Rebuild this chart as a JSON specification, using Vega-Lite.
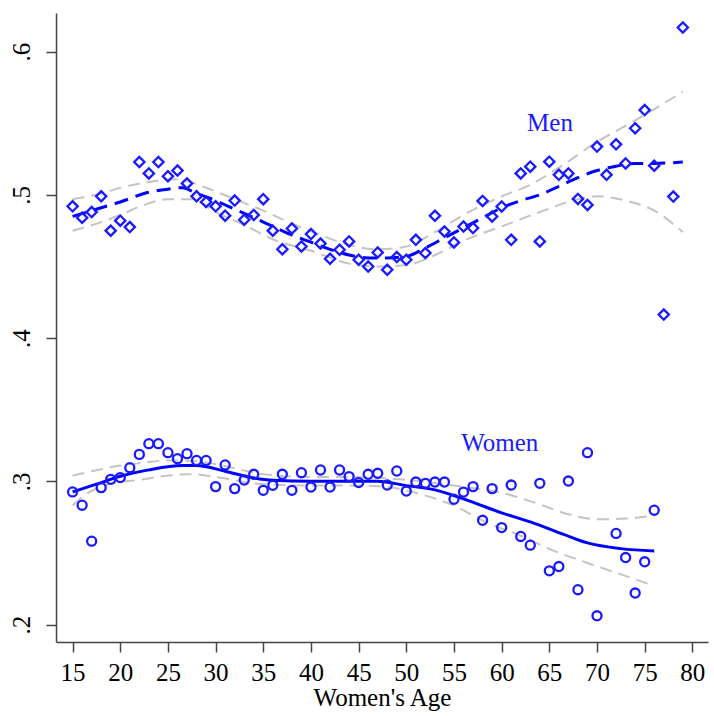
{
  "$schema": "https://vega.github.io/schema/vega-lite/v6.json",
  "autosize": {"type": "none"},
  "padding": {"left": 56, "top": 13, "right": 6, "bottom": 74},
  "width": 652,
  "height": 629,
  "background": "white",
  "config": {
    "view": {"stroke": null},
    "font": "Liberation Serif",
    "axis": {
      "grid": false,
      "domainColor": "#444444",
      "domainWidth": 1.5,
      "tickColor": "#444444",
      "tickWidth": 1.5,
      "tickSize": 10,
      "labelFont": "Liberation Serif",
      "labelFontSize": 25,
      "labelColor": "black",
      "titleFont": "Liberation Serif",
      "titleFontSize": 25,
      "titleFontWeight": "normal",
      "titleColor": "black"
    }
  },
  "datasets": {
    "points": [
      {"sex": "Men", "age": 15, "value": 0.492}, {"sex": "Men", "age": 16, "value": 0.484}, {"sex": "Men", "age": 17, "value": 0.488},
      {"sex": "Men", "age": 18, "value": 0.499}, {"sex": "Men", "age": 19, "value": 0.475}, {"sex": "Men", "age": 20, "value": 0.482},
      {"sex": "Men", "age": 21, "value": 0.4775}, {"sex": "Men", "age": 22, "value": 0.523}, {"sex": "Men", "age": 23, "value": 0.515},
      {"sex": "Men", "age": 24, "value": 0.523}, {"sex": "Men", "age": 25, "value": 0.513}, {"sex": "Men", "age": 26, "value": 0.517},
      {"sex": "Men", "age": 27, "value": 0.508}, {"sex": "Men", "age": 28, "value": 0.499}, {"sex": "Men", "age": 29, "value": 0.495},
      {"sex": "Men", "age": 30, "value": 0.492}, {"sex": "Men", "age": 31, "value": 0.4855}, {"sex": "Men", "age": 32, "value": 0.496},
      {"sex": "Men", "age": 33, "value": 0.4826}, {"sex": "Men", "age": 34, "value": 0.486}, {"sex": "Men", "age": 35, "value": 0.497},
      {"sex": "Men", "age": 36, "value": 0.475}, {"sex": "Men", "age": 37, "value": 0.462}, {"sex": "Men", "age": 38, "value": 0.4765},
      {"sex": "Men", "age": 39, "value": 0.464}, {"sex": "Men", "age": 40, "value": 0.4726}, {"sex": "Men", "age": 41, "value": 0.466},
      {"sex": "Men", "age": 42, "value": 0.4554}, {"sex": "Men", "age": 43, "value": 0.4617}, {"sex": "Men", "age": 44, "value": 0.4675},
      {"sex": "Men", "age": 45, "value": 0.4547}, {"sex": "Men", "age": 46, "value": 0.45}, {"sex": "Men", "age": 47, "value": 0.4598},
      {"sex": "Men", "age": 48, "value": 0.4477}, {"sex": "Men", "age": 49, "value": 0.4566}, {"sex": "Men", "age": 50, "value": 0.4547},
      {"sex": "Men", "age": 51, "value": 0.4686}, {"sex": "Men", "age": 52, "value": 0.4594}, {"sex": "Men", "age": 53, "value": 0.4854},
      {"sex": "Men", "age": 54, "value": 0.4744}, {"sex": "Men", "age": 55, "value": 0.4668}, {"sex": "Men", "age": 56, "value": 0.4779},
      {"sex": "Men", "age": 57, "value": 0.4768}, {"sex": "Men", "age": 58, "value": 0.4958}, {"sex": "Men", "age": 59, "value": 0.4849},
      {"sex": "Men", "age": 60, "value": 0.4919}, {"sex": "Men", "age": 61, "value": 0.4686}, {"sex": "Men", "age": 62, "value": 0.515},
      {"sex": "Men", "age": 63, "value": 0.5197}, {"sex": "Men", "age": 64, "value": 0.4675}, {"sex": "Men", "age": 65, "value": 0.5232},
      {"sex": "Men", "age": 66, "value": 0.514}, {"sex": "Men", "age": 67, "value": 0.515}, {"sex": "Men", "age": 68, "value": 0.4972},
      {"sex": "Men", "age": 69, "value": 0.493}, {"sex": "Men", "age": 70, "value": 0.5337}, {"sex": "Men", "age": 71, "value": 0.514},
      {"sex": "Men", "age": 72, "value": 0.5353}, {"sex": "Men", "age": 73, "value": 0.522}, {"sex": "Men", "age": 74, "value": 0.5465},
      {"sex": "Men", "age": 75, "value": 0.5592}, {"sex": "Men", "age": 76, "value": 0.5204}, {"sex": "Men", "age": 77, "value": 0.4164},
      {"sex": "Men", "age": 78, "value": 0.4988}, {"sex": "Men", "age": 79, "value": 0.6169},
      {"sex": "Women", "age": 15, "value": 0.2926}, {"sex": "Women", "age": 16, "value": 0.2833}, {"sex": "Women", "age": 17, "value": 0.2582},
      {"sex": "Women", "age": 18, "value": 0.2956}, {"sex": "Women", "age": 19, "value": 0.3014}, {"sex": "Women", "age": 20, "value": 0.3026},
      {"sex": "Women", "age": 21, "value": 0.3095}, {"sex": "Women", "age": 22, "value": 0.3188}, {"sex": "Women", "age": 23, "value": 0.3263},
      {"sex": "Women", "age": 24, "value": 0.3263}, {"sex": "Women", "age": 25, "value": 0.32}, {"sex": "Women", "age": 26, "value": 0.3158},
      {"sex": "Women", "age": 27, "value": 0.3193}, {"sex": "Women", "age": 28, "value": 0.3146}, {"sex": "Women", "age": 29, "value": 0.3146},
      {"sex": "Women", "age": 30, "value": 0.2963}, {"sex": "Women", "age": 31, "value": 0.3114}, {"sex": "Women", "age": 32, "value": 0.2949},
      {"sex": "Women", "age": 33, "value": 0.3009}, {"sex": "Women", "age": 34, "value": 0.3049}, {"sex": "Women", "age": 35, "value": 0.2937},
      {"sex": "Women", "age": 36, "value": 0.2972}, {"sex": "Women", "age": 37, "value": 0.3049}, {"sex": "Women", "age": 38, "value": 0.2937},
      {"sex": "Women", "age": 39, "value": 0.306}, {"sex": "Women", "age": 40, "value": 0.296}, {"sex": "Women", "age": 41, "value": 0.3079},
      {"sex": "Women", "age": 42, "value": 0.296}, {"sex": "Women", "age": 43, "value": 0.3079}, {"sex": "Women", "age": 44, "value": 0.3033},
      {"sex": "Women", "age": 45, "value": 0.2991}, {"sex": "Women", "age": 46, "value": 0.3049}, {"sex": "Women", "age": 47, "value": 0.3056},
      {"sex": "Women", "age": 48, "value": 0.2974}, {"sex": "Women", "age": 49, "value": 0.3072}, {"sex": "Women", "age": 50, "value": 0.2932},
      {"sex": "Women", "age": 51, "value": 0.2995}, {"sex": "Women", "age": 52, "value": 0.2986}, {"sex": "Women", "age": 53, "value": 0.2995},
      {"sex": "Women", "age": 54, "value": 0.2995}, {"sex": "Women", "age": 55, "value": 0.2875}, {"sex": "Women", "age": 56, "value": 0.2925},
      {"sex": "Women", "age": 57, "value": 0.2963}, {"sex": "Women", "age": 58, "value": 0.2728}, {"sex": "Women", "age": 59, "value": 0.2949},
      {"sex": "Women", "age": 60, "value": 0.2677}, {"sex": "Women", "age": 61, "value": 0.2974}, {"sex": "Women", "age": 62, "value": 0.2615},
      {"sex": "Women", "age": 63, "value": 0.2554}, {"sex": "Women", "age": 64, "value": 0.2986}, {"sex": "Women", "age": 65, "value": 0.2375},
      {"sex": "Women", "age": 66, "value": 0.2405}, {"sex": "Women", "age": 67, "value": 0.3002}, {"sex": "Women", "age": 68, "value": 0.2243},
      {"sex": "Women", "age": 69, "value": 0.32}, {"sex": "Women", "age": 70, "value": 0.2061}, {"sex": "Women", "age": 72, "value": 0.2636},
      {"sex": "Women", "age": 73, "value": 0.2468}, {"sex": "Women", "age": 74, "value": 0.222}, {"sex": "Women", "age": 75, "value": 0.2438},
      {"sex": "Women", "age": 76, "value": 0.2798}
    ],
    "fits": [
      {"sex": "Men", "age": 15, "value": 0.485}, {"sex": "Men", "age": 18, "value": 0.491}, {"sex": "Men", "age": 20, "value": 0.495},
      {"sex": "Men", "age": 22.5, "value": 0.501}, {"sex": "Men", "age": 25, "value": 0.504}, {"sex": "Men", "age": 26.5, "value": 0.505},
      {"sex": "Men", "age": 28, "value": 0.501}, {"sex": "Men", "age": 30, "value": 0.496}, {"sex": "Men", "age": 32, "value": 0.49},
      {"sex": "Men", "age": 34, "value": 0.484}, {"sex": "Men", "age": 36, "value": 0.478}, {"sex": "Men", "age": 38, "value": 0.472},
      {"sex": "Men", "age": 40, "value": 0.467}, {"sex": "Men", "age": 42, "value": 0.462}, {"sex": "Men", "age": 44, "value": 0.458},
      {"sex": "Men", "age": 46, "value": 0.456}, {"sex": "Men", "age": 48, "value": 0.456}, {"sex": "Men", "age": 50, "value": 0.457},
      {"sex": "Men", "age": 52, "value": 0.463}, {"sex": "Men", "age": 54, "value": 0.47}, {"sex": "Men", "age": 56, "value": 0.477},
      {"sex": "Men", "age": 58, "value": 0.484}, {"sex": "Men", "age": 60, "value": 0.491}, {"sex": "Men", "age": 62, "value": 0.496},
      {"sex": "Men", "age": 64, "value": 0.5}, {"sex": "Men", "age": 66, "value": 0.506}, {"sex": "Men", "age": 68, "value": 0.512},
      {"sex": "Men", "age": 70, "value": 0.517}, {"sex": "Men", "age": 72, "value": 0.52}, {"sex": "Men", "age": 74, "value": 0.522},
      {"sex": "Men", "age": 76, "value": 0.522}, {"sex": "Men", "age": 79, "value": 0.523},
      {"sex": "Women", "age": 15, "value": 0.2926}, {"sex": "Women", "age": 17.5, "value": 0.298}, {"sex": "Women", "age": 20, "value": 0.3035},
      {"sex": "Women", "age": 23, "value": 0.308}, {"sex": "Women", "age": 26.5, "value": 0.311}, {"sex": "Women", "age": 28, "value": 0.311},
      {"sex": "Women", "age": 31, "value": 0.307}, {"sex": "Women", "age": 33.5, "value": 0.303}, {"sex": "Women", "age": 36, "value": 0.3007},
      {"sex": "Women", "age": 40, "value": 0.3}, {"sex": "Women", "age": 47, "value": 0.3}, {"sex": "Women", "age": 50, "value": 0.297},
      {"sex": "Women", "age": 53, "value": 0.294}, {"sex": "Women", "age": 56.5, "value": 0.2865}, {"sex": "Women", "age": 60, "value": 0.278},
      {"sex": "Women", "age": 63.5, "value": 0.2705}, {"sex": "Women", "age": 66.5, "value": 0.263}, {"sex": "Women", "age": 69, "value": 0.257},
      {"sex": "Women", "age": 72.5, "value": 0.253}, {"sex": "Women", "age": 76, "value": 0.2514}
    ],
    "bands": [
      {"band": "Men upper", "age": 15, "value": 0.497}, {"band": "Men upper", "age": 18, "value": 0.501}, {"band": "Men upper", "age": 20, "value": 0.505},
      {"band": "Men upper", "age": 23, "value": 0.509}, {"band": "Men upper", "age": 26, "value": 0.511}, {"band": "Men upper", "age": 29, "value": 0.505},
      {"band": "Men upper", "age": 32, "value": 0.497}, {"band": "Men upper", "age": 35, "value": 0.489}, {"band": "Men upper", "age": 38, "value": 0.48},
      {"band": "Men upper", "age": 41, "value": 0.472}, {"band": "Men upper", "age": 44, "value": 0.465}, {"band": "Men upper", "age": 47, "value": 0.462},
      {"band": "Men upper", "age": 50, "value": 0.464}, {"band": "Men upper", "age": 53, "value": 0.474}, {"band": "Men upper", "age": 56, "value": 0.486},
      {"band": "Men upper", "age": 60, "value": 0.499}, {"band": "Men upper", "age": 63, "value": 0.507}, {"band": "Men upper", "age": 66, "value": 0.519},
      {"band": "Men upper", "age": 70, "value": 0.537}, {"band": "Men upper", "age": 74, "value": 0.552}, {"band": "Men upper", "age": 79, "value": 0.572},
      {"band": "Men lower", "age": 15, "value": 0.475}, {"band": "Men lower", "age": 18, "value": 0.481}, {"band": "Men lower", "age": 20, "value": 0.486},
      {"band": "Men lower", "age": 22.5, "value": 0.493}, {"band": "Men lower", "age": 25, "value": 0.497}, {"band": "Men lower", "age": 27.5, "value": 0.497},
      {"band": "Men lower", "age": 30, "value": 0.488}, {"band": "Men lower", "age": 33, "value": 0.479}, {"band": "Men lower", "age": 36, "value": 0.469},
      {"band": "Men lower", "age": 40, "value": 0.461}, {"band": "Men lower", "age": 44, "value": 0.452}, {"band": "Men lower", "age": 47, "value": 0.45},
      {"band": "Men lower", "age": 50, "value": 0.451}, {"band": "Men lower", "age": 53, "value": 0.458}, {"band": "Men lower", "age": 56, "value": 0.468},
      {"band": "Men lower", "age": 60, "value": 0.478}, {"band": "Men lower", "age": 64, "value": 0.488}, {"band": "Men lower", "age": 68, "value": 0.497},
      {"band": "Men lower", "age": 70, "value": 0.499}, {"band": "Men lower", "age": 73, "value": 0.496}, {"band": "Men lower", "age": 76, "value": 0.489},
      {"band": "Men lower", "age": 79, "value": 0.474},
      {"band": "Women upper", "age": 15, "value": 0.304}, {"band": "Women upper", "age": 17, "value": 0.307}, {"band": "Women upper", "age": 20, "value": 0.311},
      {"band": "Women upper", "age": 22.5, "value": 0.313}, {"band": "Women upper", "age": 25, "value": 0.3146}, {"band": "Women upper", "age": 28, "value": 0.314},
      {"band": "Women upper", "age": 30, "value": 0.312}, {"band": "Women upper", "age": 35, "value": 0.305}, {"band": "Women upper", "age": 40, "value": 0.303},
      {"band": "Women upper", "age": 45, "value": 0.303}, {"band": "Women upper", "age": 50, "value": 0.301}, {"band": "Women upper", "age": 55, "value": 0.297},
      {"band": "Women upper", "age": 60, "value": 0.292}, {"band": "Women upper", "age": 63.5, "value": 0.285}, {"band": "Women upper", "age": 67, "value": 0.277},
      {"band": "Women upper", "age": 70, "value": 0.2735}, {"band": "Women upper", "age": 73, "value": 0.274}, {"band": "Women upper", "age": 76, "value": 0.276},
      {"band": "Women lower", "age": 15, "value": 0.283}, {"band": "Women lower", "age": 16, "value": 0.289}, {"band": "Women lower", "age": 19.5, "value": 0.299},
      {"band": "Women lower", "age": 22, "value": 0.301}, {"band": "Women lower", "age": 25, "value": 0.304}, {"band": "Women lower", "age": 27.5, "value": 0.305},
      {"band": "Women lower", "age": 30, "value": 0.303}, {"band": "Women lower", "age": 35, "value": 0.298}, {"band": "Women lower", "age": 40, "value": 0.297},
      {"band": "Women lower", "age": 45, "value": 0.297}, {"band": "Women lower", "age": 48, "value": 0.296}, {"band": "Women lower", "age": 51.5, "value": 0.291},
      {"band": "Women lower", "age": 55, "value": 0.283}, {"band": "Women lower", "age": 58.5, "value": 0.271}, {"band": "Women lower", "age": 62, "value": 0.262},
      {"band": "Women lower", "age": 65.5, "value": 0.2514}, {"band": "Women lower", "age": 69, "value": 0.243}, {"band": "Women lower", "age": 72.5, "value": 0.235},
      {"band": "Women lower", "age": 76, "value": 0.227}
    ],
    "labels": [
      {"label": "Men", "age": 65.07, "value": 0.550},
      {"label": "Women", "age": 59.8, "value": 0.327}
    ]
  },
  "encoding": {
    "x": {
      "field": "age", "type": "quantitative",
      "scale": {"domain": [13.26, 81.64], "nice": false, "zero": false},
      "axis": {"values": [15, 20, 25, 30, 35, 40, 45, 50, 55, 60, 65, 70, 75, 80], "title": "Women's Age", "labelPadding": 8, "titlePadding": 0, "labelFlush": false}
    },
    "y": {
      "field": "value", "type": "quantitative",
      "scale": {"domain": [0.1878, 0.627], "nice": false, "zero": false},
      "axis": {"values": [0.2, 0.3, 0.4, 0.5, 0.6], "title": null, "labelAngle": -90, "labelPadding": 12, "labelExpr": "replace(format(datum.value, '.1f'), '0.', '.')", "labelFlush": false}
    }
  },
  "layer": [
    {
      "data": {"name": "bands"},
      "mark": {"type": "line", "interpolate": "monotone", "color": "#c4c4c4", "strokeWidth": 2, "strokeDash": [12, 7]},
      "encoding": {"detail": {"field": "band", "type": "nominal"}}
    },
    {
      "data": {"name": "fits"},
      "transform": [{"filter": "datum.sex === 'Men'"}],
      "mark": {"type": "line", "interpolate": "monotone", "color": "#0000ff", "strokeWidth": 3, "strokeDash": [14, 8]},
      "encoding": {}
    },
    {
      "data": {"name": "fits"},
      "transform": [{"filter": "datum.sex === 'Women'"}],
      "mark": {"type": "line", "interpolate": "monotone", "color": "#0000ff", "strokeWidth": 3},
      "encoding": {}
    },
    {
      "data": {"name": "points"},
      "mark": {"type": "point", "filled": false, "color": "#1a1aff", "strokeWidth": 2.3, "opacity": 1},
      "encoding": {
        "shape": {"field": "sex", "type": "nominal", "scale": {"domain": ["Men", "Women"], "range": ["diamond", "circle"]}, "legend": null},
        "size": {"field": "sex", "type": "nominal", "scale": {"domain": ["Men", "Women"], "range": [105, 82]}, "legend": null}
      }
    },
    {
      "data": {"name": "labels"},
      "mark": {"type": "text", "font": "Liberation Serif", "fontSize": 25, "color": "#1a1aff", "baseline": "middle", "align": "center"},
      "encoding": {"text": {"field": "label", "type": "nominal"}}
    }
  ]
}
